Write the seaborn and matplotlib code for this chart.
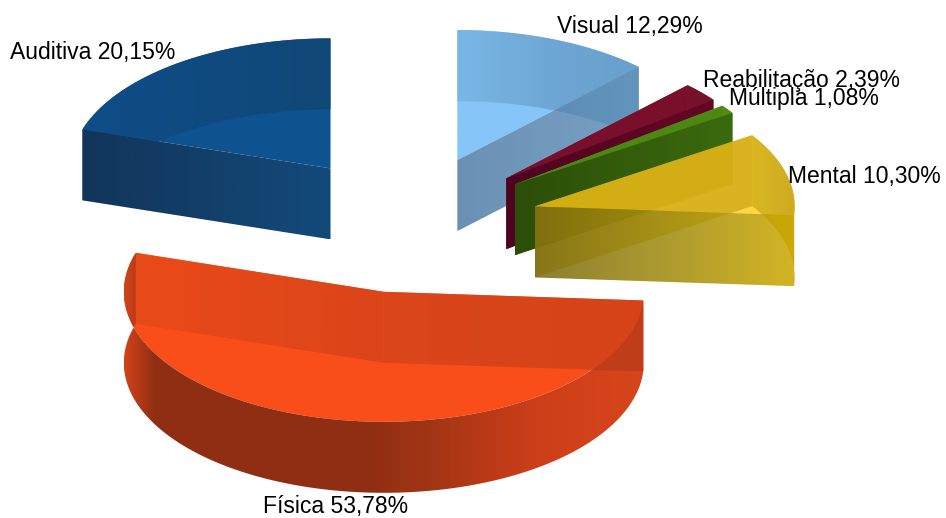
import numpy as np
import matplotlib
matplotlib.use("Agg")
import matplotlib.pyplot as plt
from matplotlib.patches import Polygon
import seaborn as sns

# --- dados ---
categorias = ["Visual", "Reabilitação", "Múltipla", "Mental", "Física", "Auditiva"]
valores = [12.29, 2.39, 1.08, 10.30, 53.78, 20.15]
rotulos = ["Visual 12,29%", "Reabilitação 2,39%", "Múltipla 1,08%",
           "Mental 10,30%", "Física 53,78%", "Auditiva 20,15%"]

# cor do topo e degradês (esquerda -> direita) de cada parede
cor_topo = ["#85C5F8", "#80122C", "#5E9A18", "#FFD022", "#F94E19", "#0F5290"]
cor_inicio = [["#6FA8D6"], ["#7A0F2C"], ["#4A8612"], ["#CFA90E", "#CCA616"],
              ["#D8451A", "#D2421A"], ["#12355A", "#124A7A"]]
cor_fim = [["#527FA8", "#6092BA"], ["#4E0420", "#640824"], ["#2C4E08", "#3A6A0E"],
           ["#7A6A10", "#A08A0C", "#CCA800"], ["#E84A18", "#D8451A"], ["#124A7A"]]
cor_borda = [["#7AB6E4", "#6BA4D2", "#659CC8"], ["#74122A"], ["#528A14"],
             ["#D6B41E", "#C9A61E"],
             ["#D0431A"] + ["#8F2E12"] * 8 + ["#9A3214", "#A03515", "#AE3816", "#BC3A18", "#C63E19",
                                              "#CE4019", "#D2421A", "#D4431A", "#D6451B"],
             ["#0F4E88", "#104674"]]
cor_cruza = "#BF3D18"

# posições dos rótulos (px)
rotulo_x = [557, 703, 729, 788, 263, 10]
rotulo_y = [27, 81, 98, 177, 506, 53]

# --- geometria da pizza ---
CX, CY = 408, 224
RX, RY = 260, 130
ALTURA = 71
EXPLODE_X, EXPLODE_Y = 131, 69

sns.set_theme(style="white")
plt.rcParams["font.family"] = ["Liberation Sans", "DejaVu Sans"]

fig, ax = plt.subplots(figsize=(9.46, 5.18), dpi=100)
ax.set_position([0, 0, 1, 1])
ax.set_xlim(0, 946)
ax.set_ylim(518, 0)
ax.axis("off")
ax.autoscale(False)


def pinta(pontos, cores, z, alfa):
    # degradê horizontal recortado no polígono da face
    pontos = np.array(pontos)
    if len(cores) == 1:
        cores = cores * 2
    grad = np.array(sns.blend_palette(cores, 256))[:, :3]
    img = np.column_stack([grad, np.full(256, alfa)])[None, :, :]
    x0, y0 = pontos.min(axis=0)
    x1, y1 = pontos.max(axis=0)
    im = ax.imshow(img, extent=[x0, x1 + 0.01, y1, y0], aspect="auto",
                   interpolation="bilinear", zorder=z)
    im.set_clip_path(Polygon(pontos, closed=True, transform=ax.transData))


def aro(cx, cy, a0, a1):
    t = np.radians(np.linspace(a0, a1, 400))
    return np.column_stack([cx + RX * np.sin(t), cy - RY * np.cos(t)])


limites = np.cumsum([0] + valores) / np.sum(valores) * 360
# ordem de desenho: de trás para a frente
ordem = [5, 0, 1, 2, 3, 4]

for z, i in enumerate(ordem):
    a0, a1 = limites[i], limites[i + 1]
    meio = np.radians((a0 + a1) / 2)
    cx = CX + EXPLODE_X * np.sin(meio)
    cy = CY - EXPLODE_Y * np.cos(meio)
    desce = np.array([0, ALTURA])
    centro = np.array([cx, cy])
    borda = aro(cx, cy, a0, a1)

    parede_ini = [centro, borda[0], borda[0] + desce, centro + desce]
    parede_fim = [centro, borda[-1], borda[-1] + desce, centro + desce]
    parede_aro = np.vstack([borda, (borda + desce)[::-1]])

    # Mental é mais translúcida: o verde aparece através dela
    alfa_topo = 0.86 if categorias[i] == "Mental" else 1.0
    alfa_fundo = 0.72 if categorias[i] == "Mental" else 0.9
    alfa_frente = 0.86 if categorias[i] in ("Mental", "Visual") else 1.0
    # paredes viradas para a frente ficam por cima
    ini_frente = a0 > 180
    fim_frente = a1 < 180
    aro_frente = np.cos(meio) < 0

    pinta(np.vstack([centro, borda]), [cor_topo[i]], z * 10 + 1, alfa_topo)
    pinta(parede_ini, cor_inicio[i], z * 10 + (6 if ini_frente else 2), alfa_frente if ini_frente else alfa_fundo)
    pinta(parede_fim, cor_fim[i], z * 10 + (7 if fim_frente else 3), alfa_frente if fim_frente else alfa_fundo)
    pinta(parede_aro, cor_borda[i], z * 10 + 4, 1.0 if aro_frente else 0.9)

    if categorias[i] == "Física":
        # triângulo onde a parede de trás cruza o aro, à direita
        p0, p1 = centro + desce, borda[0] + desce
        linha = p0[1] + (borda[:, 0] - p0[0]) * (p1[1] - p0[1]) / (p1[0] - p0[0])
        sob = borda[(borda[:, 1] < linha) & (borda[:, 0] > cx)]
        pinta(np.vstack([sob, p1]), [cor_cruza], z * 10 + 8, 1.0)

for texto, x, y in zip(rotulos, rotulo_x, rotulo_y):
    ax.text(x, y, texto, fontsize=16.5, color="black", ha="left", va="center", zorder=100)

fig.savefig("out.png", dpi=100)
